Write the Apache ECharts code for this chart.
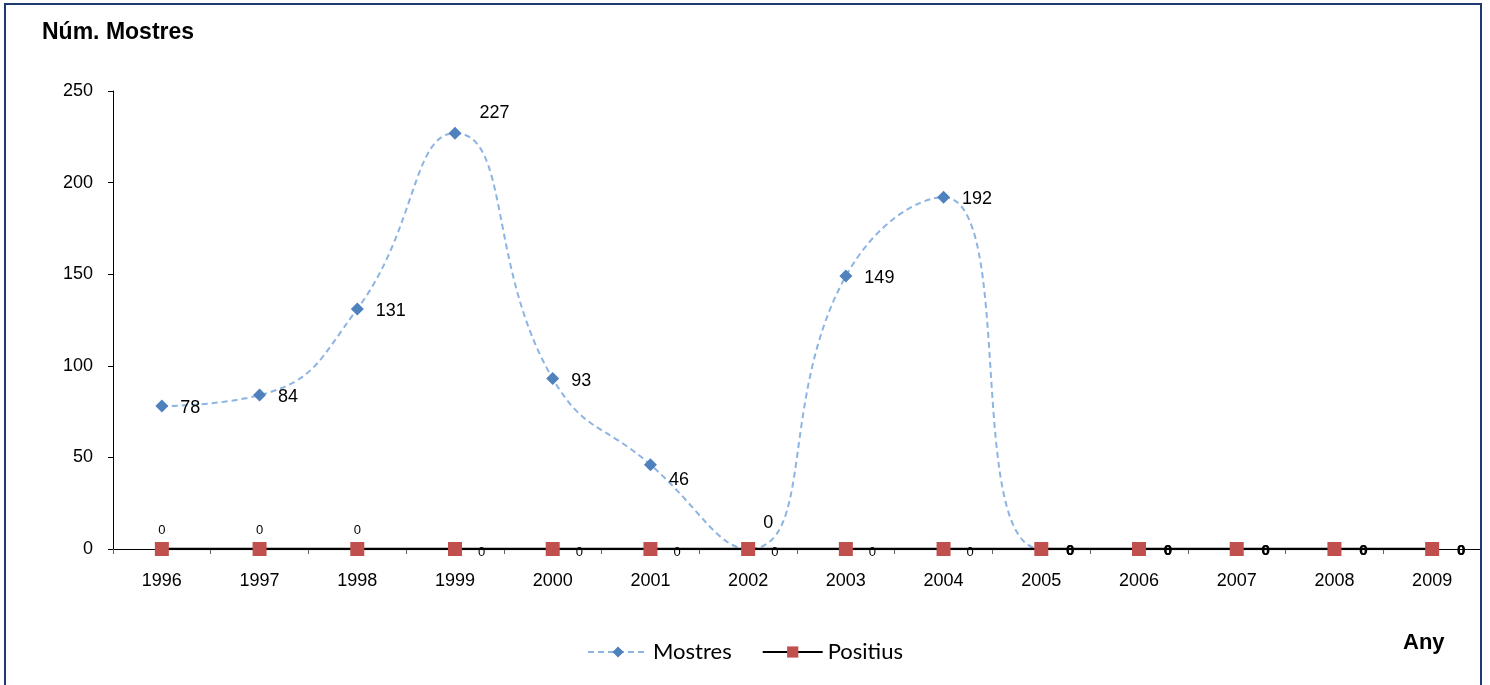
<!DOCTYPE html>
<html><head><meta charset="utf-8">
<script src="https://cdn.jsdelivr.net/npm/echarts@6/dist/echarts.min.js"></script>
<style>html,body{margin:0;padding:0;background:#fff}#c{width:1490px;height:685px}</style>
</head><body><div id="c"></div>
<script>
const years = ['1996','1997','1998','1999','2000','2001','2002','2003','2004','2005','2006','2007','2008','2009'];
const mostres = [78, 84, 131, 227, 93, 46, 0, 149, 192, 0, 0, 0, 0, 0];
const positius = [0, 0, 0, 0, 0, 0, 0, 0, 0, 0, 0, 0, 0, 0];
const yTicks = [0, 50, 100, 150, 200, 250];

const chart = echarts.init(document.getElementById('c'));
const F = 'Arial, "Liberation Sans", sans-serif';

const mData = mostres.map((v, i) => {
  const d = {value: v};
  const y = years[i];
  if (y === '2002') {
    d.label = {position: 'top', offset: [20, 2]};
  } else if (y === '1999') {
    d.label = {position: 'right', offset: [6, -20]};
  } else if (y === '2001') {
    d.label = {position: 'right', offset: [0, 15]};
  } else if (i >= 9) {
    d.label = {position: 'right', distance: 18, offset: [0, 2], fontSize: 15, fontWeight: 'bold'};
  }
  return d;
});
const pData = positius.map((v, i) => {
  const d = {value: v};
  if (i <= 2) d.label = {position: 'top', distance: 8};
  else if (i >= 9) d.label = {position: 'right', distance: 18, offset: [0, 2], fontSize: 15, fontWeight: 'bold'};
  return d;
});

chart.setOption({
  animation: false,
  backgroundColor: '#fff',
  grid: {left: 113, right: 9, top: 91, bottom: 136},
  graphic: [
    {type: 'rect', shape: {x: 5, y: 4, width: 1476, height: 700}, style: {fill: 'none', stroke: '#1F3A73', lineWidth: 2}, z: 100},
    {type: 'text', left: 42, top: 21, style: {text: 'Núm. Mostres', font: 'bold 23px ' + F, fill: '#000'}},
    {type: 'text', left: 1403, top: 632, style: {text: 'Any', font: 'bold 22px ' + F, fill: '#000'}}
  ],
  legend: {
    bottom: 17, left: 'center', itemGap: 30, itemWidth: 60, itemHeight: 14,
    textStyle: {fontSize: 22, fontFamily: 'Lato, ' + F, color: '#000'},
    data: ['Mostres', 'Positius']
  },
  xAxis: {
    type: 'category', data: years, boundaryGap: true,
    axisLine: {lineStyle: {color: '#000', width: 1}},
    axisTick: {show: true, length: 5, lineStyle: {color: '#666'}},
    axisLabel: {fontSize: 18, fontFamily: F, color: '#000', margin: 23}
  },
  yAxis: {
    type: 'value', min: yTicks[0], max: yTicks[yTicks.length - 1], interval: 50,
    splitLine: {show: false},
    axisLine: {show: true, lineStyle: {color: '#000'}},
    axisTick: {show: true, length: 5, lineStyle: {color: '#000'}},
    axisLabel: {fontSize: 18, fontFamily: F, color: '#000', margin: 20}
  },
  series: [
    {
      name: 'Mostres', type: 'line', data: mData, smooth: 0.5,
      symbol: 'diamond', symbolSize: 13,
      lineStyle: {color: '#8DB4E2', width: 2, type: [6, 4]},
      itemStyle: {color: '#4F81BD'},
      label: {show: true, position: 'right', distance: 12, offset: [0, 2], fontSize: 18, fontFamily: F, color: '#000'},
      z: 3
    },
    {
      name: 'Positius', type: 'line', data: pData,
      symbol: 'rect', symbolSize: 14,
      lineStyle: {color: '#000', width: 2.5},
      itemStyle: {color: '#C0504D'},
      label: {show: true, position: 'right', distance: 16, offset: [0, 3], fontSize: 13, fontFamily: F, color: '#000'},
      z: 4
    }
  ]
});
</script></body></html>
